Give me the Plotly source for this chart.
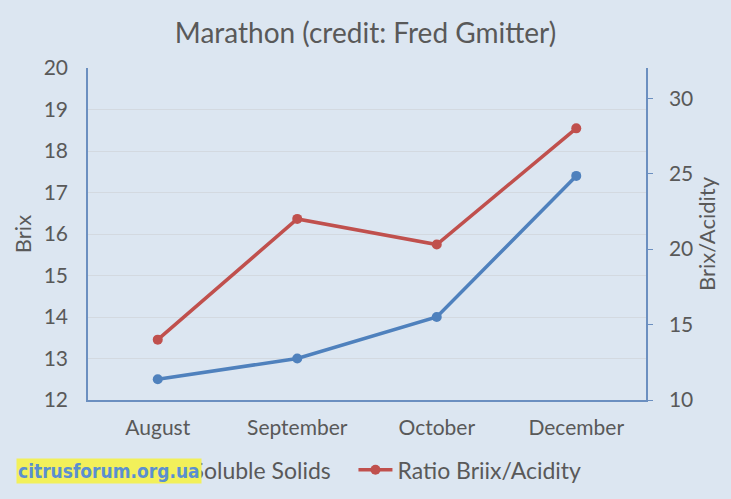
import plotly.graph_objects as go

months = ["August", "September", "October", "December"]
soluble_solids = [12.5, 13.0, 14.0, 17.4]
ratio_brix_acidity = [14.0, 22.0, 20.3, 28.0]

title_text = "Marathon (credit: Fred Gmitter)"
left_title = "Brix"
right_title = "Brix/Acidity"
right_ticks = [10, 15, 20, 25, 30]

BG = "#dce6f1"
TXT = "#595959"
AX = "#6b8fc0"
FONT = "Lato"

fig = go.Figure()
fig.add_trace(go.Scatter(
    x=months, y=soluble_solids, name="Soluble Solids&nbsp;&nbsp;&nbsp;", mode="lines+markers",
    line=dict(color="#4f81bd", width=3.5), marker=dict(size=10, color="#4f81bd"),
    yaxis="y"))
fig.add_trace(go.Scatter(
    x=months, y=ratio_brix_acidity, name="Ratio Briix/Acidity", mode="lines+markers",
    line=dict(color="#c0504d", width=3.5), marker=dict(size=10, color="#c0504d"),
    yaxis="y2"))
# invisible copy so the tick-mark-only axis (y3) is drawn
fig.add_trace(go.Scatter(
    x=months, y=ratio_brix_acidity, mode="lines", opacity=0, showlegend=False,
    hoverinfo="skip", line=dict(width=0), yaxis="y3"))

fig.update_layout(
    width=731, height=499,
    paper_bgcolor=BG, plot_bgcolor=BG,
    margin=dict(l=88, r=85, t=68, b=99, autoexpand=False),
    font=dict(family=FONT, color=TXT, size=21),
    title=dict(text=title_text, x=0.5, xanchor="center", y=0.933, yanchor="middle",
               font=dict(size=28, color=TXT, family=FONT)),
    xaxis=dict(type="category", range=[-0.5, 3.5], showline=True, linecolor=AX,
               linewidth=1.5, showgrid=False, ticks="", tickfont=dict(size=21),
               zeroline=False, ticklabelstandoff=8, automargin=False),
    yaxis=dict(range=[12, 20], dtick=1, showline=True, linecolor=AX, linewidth=1.5,
               showgrid=True, gridcolor="#d3d9e0", gridwidth=1, ticks="",
               zeroline=False, tickfont=dict(size=21), ticklabelstandoff=14,
               automargin=False,
               title=dict(text=left_title, font=dict(size=22), standoff=6)),
    yaxis2=dict(range=[10, 32], tickvals=right_ticks, overlaying="y", side="right",
                showline=True, linecolor=AX, linewidth=1.5, showgrid=False,
                ticks="outside", ticklen=17, tickcolor="rgba(0,0,0,0)", zeroline=False,
                tickfont=dict(size=21), automargin=False,
                title=dict(text=right_title, font=dict(size=22), standoff=0)),
    yaxis3=dict(range=[10, 32], tickvals=right_ticks, overlaying="y", side="right",
                showline=False, showgrid=False, showticklabels=False,
                ticks="outside", ticklen=6, tickcolor=AX, tickwidth=1.2,
                zeroline=False, automargin=False),
    legend=dict(orientation="h", x=0.5, xanchor="center", y=-0.21, yanchor="middle",
                font=dict(size=23), bgcolor="rgba(0,0,0,0)", itemwidth=34),
    showlegend=True,
)

fig.add_annotation(
    text="<b>citrusforum.org.ua</b>", xref="paper", yref="paper",
    x=(109 - 88) / 558, y=(400 - 471) / 332, xanchor="center", yanchor="middle",
    showarrow=False, font=dict(size=19, color="#5b8fd0", family="DejaVu Sans Condensed"),
    bgcolor="#f2f05a", borderpad=1)

fig.write_html("out.html", config={"displayModeBar": False},
               post_script="document.body.style.margin='0';document.body.style.padding='0';")
